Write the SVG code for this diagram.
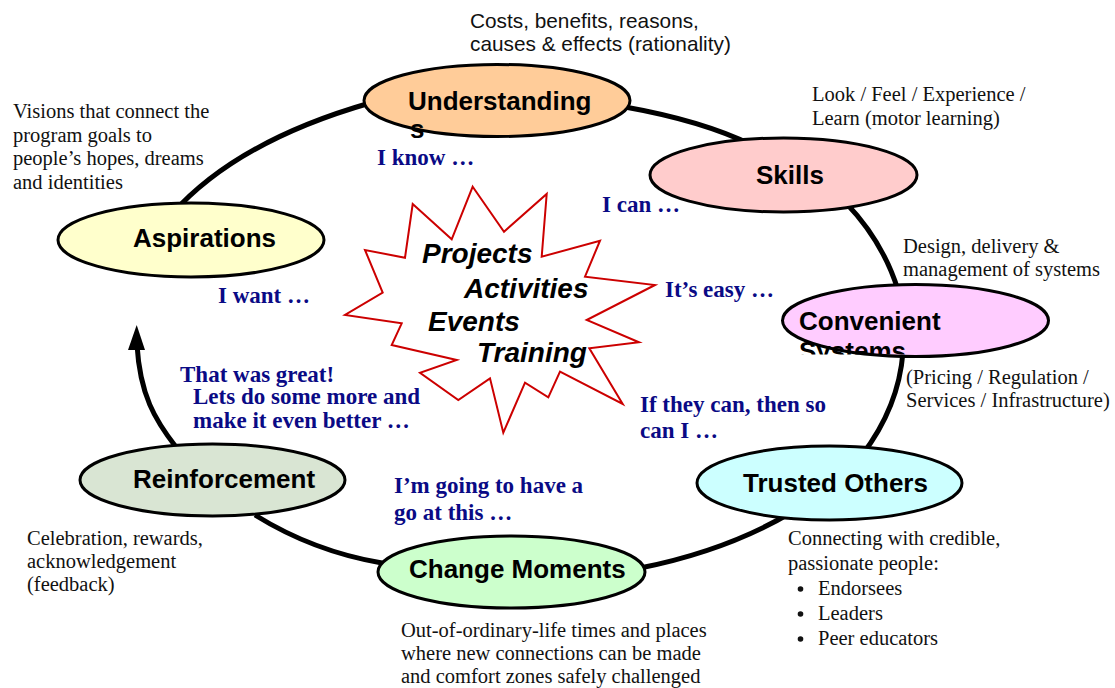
<svg xmlns="http://www.w3.org/2000/svg" width="1115" height="688" viewBox="0 0 1115 688">
  <defs>
    <style>
      .node { stroke: #000; stroke-width: 3; }
      .label { font-family: "Liberation Sans", Arial, sans-serif; font-weight: bold; font-size: 26px; fill: #000; }
      .note { font-family: "Liberation Serif", "Times New Roman", serif; font-size: 20.5px; fill: #111; }
      .note-sans { font-family: "Liberation Sans", Arial, sans-serif; font-size: 20.8px; fill: #111; }
      .say { font-family: "Liberation Serif", "Times New Roman", serif; font-weight: bold; font-size: 23px; fill: #0a0a85; }
      .burst { font-family: "Liberation Sans", Arial, sans-serif; font-weight: bold; font-style: italic; font-size: 28px; fill: #000; }
      .link { fill: none; stroke: #000; stroke-width: 5; stroke-linecap: butt; }
    </style>
    <clipPath id="clip-understanding">
      <rect x="350" y="60" width="300" height="78.5"/>
    </clipPath>
    <clipPath id="clip-convenient">
      <rect x="780" y="280" width="280" height="74.5"/>
    </clipPath>
  </defs>

  <rect width="1115" height="688" fill="#fff"/>

  <!-- cycle connectors (drawn beneath the nodes) -->
  <g id="connectors">
    <path class="link" d="M172,214 C220,160 290,126 370,103"/>
    <path class="link" d="M625,107 C670,115 715,127 752,145"/>
    <path class="link" d="M846,203 C870,228 888,258 898,290"/>
    <path class="link" d="M903,352 C900,390 885,425 862,455"/>
    <path class="link" d="M792,512 C745,540 695,557 640,568"/>
    <path class="link" d="M382,563 C335,555 292,538 255,515"/>
    <path class="link" d="M176,447 C155,420 140,395 137,345"/>
    <polygon points="136.7,325 128,350 145,350" fill="#000"/>
  </g>

  <!-- central burst -->
  <g id="burst">
    <polygon fill="#fff" stroke="#cc0000" stroke-width="2" stroke-linejoin="miter"
      points="472.7,186.7 504,231.7 546.7,194 541.7,256.7 600,240.7 585,276.7 655,285 586.7,320 639,342.3 589.3,348.3 622.7,404 560,371.7 548.3,397.3 525,382.7 503.3,432.7 490,378.3 458.3,400 420,372.7 456.7,360 391.7,345 401.7,323.3 345,315 382.7,292.7 365,250 405,257.7 412.7,204 451.7,239.3"/>
    <text class="burst" x="422" y="263">Projects</text>
    <text class="burst" x="464" y="298">Activities</text>
    <text class="burst" x="428" y="330.5">Events</text>
    <text class="burst" x="477" y="362">Training</text>
  </g>

  <!-- nodes -->
  <g id="understanding">
    <ellipse class="node" cx="497" cy="100.5" rx="133" ry="36" fill="#ffcc99"/>
    <g clip-path="url(#clip-understanding)">
      <text class="label" x="408" y="110">Understanding</text>
      <text class="label" x="410" y="137.5">s</text>
    </g>
  </g>

  <g id="skills">
    <ellipse class="node" cx="783.5" cy="175" rx="133.5" ry="37" fill="#ffcccc"/>
    <text class="label" x="756" y="184">Skills</text>
  </g>

  <g id="convenient-systems">
    <ellipse class="node" cx="915.5" cy="320.5" rx="133" ry="36" fill="#ffccff"/>
    <g clip-path="url(#clip-convenient)">
      <text class="label" x="799" y="330">Convenient</text>
      <text class="label" x="799" y="360">Systems</text>
    </g>
  </g>

  <g id="trusted-others">
    <ellipse class="node" cx="829.5" cy="483" rx="132.5" ry="37" fill="#ccffff"/>
    <text class="label" x="743" y="492">Trusted Others</text>
  </g>

  <g id="change-moments">
    <ellipse class="node" cx="511.5" cy="572" rx="133.5" ry="36" fill="#ccffcc"/>
    <text class="label" x="409" y="578">Change Moments</text>
  </g>

  <g id="reinforcement">
    <ellipse class="node" cx="212.5" cy="480" rx="132.5" ry="36" fill="#d9e5d3"/>
    <text class="label" x="133" y="488">Reinforcement</text>
  </g>

  <g id="aspirations">
    <ellipse class="node" cx="191" cy="240" rx="133" ry="37" fill="#ffffcc"/>
    <text class="label" x="133" y="247">Aspirations</text>
  </g>

  <!-- descriptive notes -->
  <g id="notes">
    <text class="note-sans" x="470" y="28">Costs, benefits, reasons,</text>
    <text class="note-sans" x="470" y="51">causes &amp; effects (rationality)</text>

    <text class="note" x="13" y="118">Visions that connect the</text>
    <text class="note" x="13" y="141.5">program goals to</text>
    <text class="note" x="13" y="165">people’s hopes, dreams</text>
    <text class="note" x="13" y="188.5">and identities</text>

    <text class="note" x="812" y="101">Look / Feel / Experience /</text>
    <text class="note" x="812" y="125">Learn (motor learning)</text>

    <text class="note" x="903" y="253">Design, delivery &amp;</text>
    <text class="note" x="903" y="276">management of systems</text>

    <text class="note" x="906" y="383.5">(Pricing / Regulation /</text>
    <text class="note" x="906" y="407">Services / Infrastructure)</text>

    <text class="note" x="788" y="545">Connecting with credible,</text>
    <text class="note" x="788" y="570">passionate people:</text>
    <circle cx="800.5" cy="589" r="2.8" fill="#111"/>
    <text class="note" x="818" y="595">Endorsees</text>
    <circle cx="800.5" cy="614" r="2.8" fill="#111"/>
    <text class="note" x="818" y="620">Leaders</text>
    <circle cx="800.5" cy="639" r="2.8" fill="#111"/>
    <text class="note" x="818" y="645">Peer educators</text>

    <text class="note" x="401" y="637">Out-of-ordinary-life times and places</text>
    <text class="note" x="401" y="660">where new connections can be made</text>
    <text class="note" x="401" y="683">and comfort zones safely challenged</text>

    <text class="note" x="27" y="545">Celebration, rewards,</text>
    <text class="note" x="27" y="567.5">acknowledgement</text>
    <text class="note" x="27" y="591">(feedback)</text>
  </g>

  <!-- inner voice captions -->
  <g id="voices">
    <text class="say" x="377" y="165">I know …</text>
    <text class="say" x="602" y="212">I can …</text>
    <text class="say" x="218" y="303">I want …</text>
    <text class="say" x="665" y="297">It’s easy …</text>
    <text class="say" x="640" y="412">If they can, then so</text>
    <text class="say" x="640" y="438">can I …</text>
    <text class="say" x="394" y="493">I’m going to have a</text>
    <text class="say" x="394" y="520">go at this …</text>
    <text class="say" x="180" y="381.5">That was great!</text>
    <text class="say" x="193" y="403.5">Lets do some more and</text>
    <text class="say" x="193" y="427.5">make it even better …</text>
  </g>
</svg>
